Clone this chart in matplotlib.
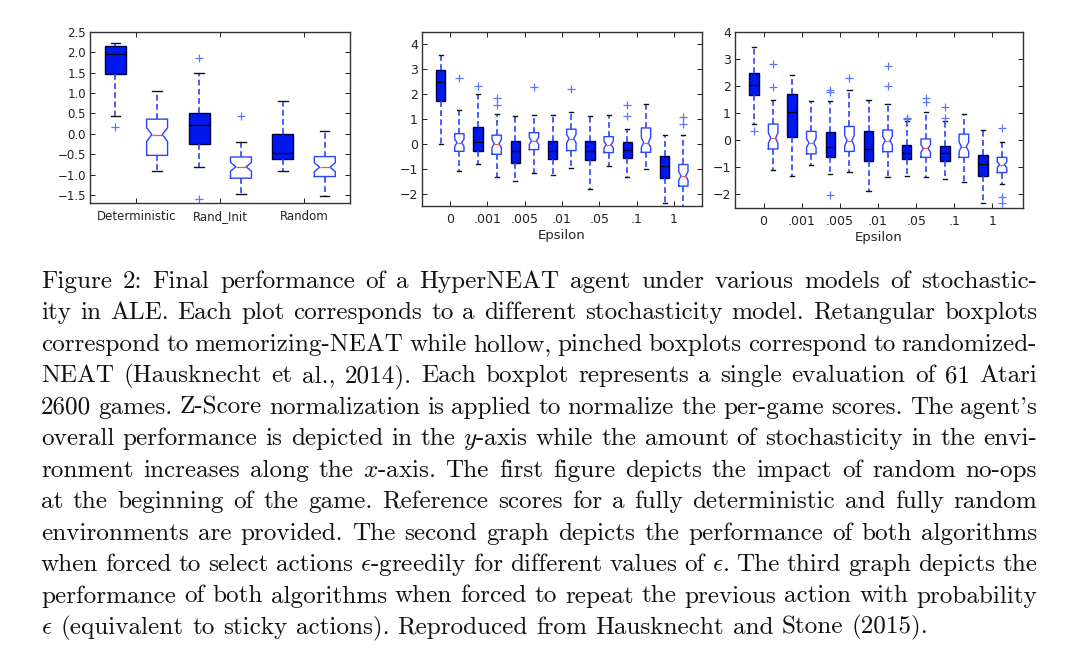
import numpy as np
import matplotlib
matplotlib.use('Agg')
import matplotlib.pyplot as plt

plt.rcParams['mathtext.fontset'] = 'cm'

# rows: whisker low, q1, median, q3, whisker high
# panel 1 - random no-op starts
p1_labels = ['Deterministic', 'Rand_Init', 'Random']
p1_mem = [[0.44, 1.47, 1.95, 2.16, 2.22],
          [-0.82, -0.26, 0.22, 0.50, 1.49],
          [-0.91, -0.63, -0.48, 0.00, 0.80]]
p1_mem_fliers = [[0.17], [1.86, -1.61], []]
p1_rnd = [[-0.92, -0.53, -0.02, 0.36, 1.06],
          [-1.48, -1.09, -0.81, -0.57, -0.21],
          [-1.54, -1.05, -0.82, -0.56, 0.07]]
p1_rnd_fliers = [[], [0.43], []]
p1_rnd_ci = [[-0.19, 0.15], [-0.92, -0.70], [-0.93, -0.71]]

eps_labels = ['0', '.001', '.005', '.01', '.05', '.1', '1']

# panel 2 - epsilon-greedy
p2_mem = [[-0.02, 1.71, 2.49, 2.98, 3.58],
          [-0.83, -0.28, 0.08, 0.68, 2.02],
          [-1.50, -0.77, -0.30, 0.12, 1.14],
          [-1.25, -0.59, -0.28, 0.13, 1.18],
          [-1.80, -0.66, -0.28, 0.12, 1.14],
          [-1.33, -0.56, -0.26, 0.08, 0.61],
          [-2.39, -1.37, -0.89, -0.50, 0.35]]
p2_mem_fliers = [[], [2.34], [], [], [], [1.12, 1.58], []]
p2_rnd = [[-1.09, -0.30, 0.05, 0.41, 1.38],
          [-1.33, -0.42, 0.01, 0.35, 1.20],
          [-1.18, -0.23, 0.12, 0.45, 1.18],
          [-0.99, -0.27, 0.21, 0.59, 1.28],
          [-0.89, -0.35, -0.03, 0.29, 1.15],
          [-1.03, -0.34, 0.05, 0.64, 1.60],
          [-2.70, -1.70, -1.29, -0.83, 0.35]]
p2_rnd_fliers = [[2.65], [1.58, 1.84], [2.29], [2.22], [], [], [0.81, 1.08]]
p2_rnd_ci = [[-0.10, 0.19], [-0.15, 0.17], [-0.02, 0.26], [0.04, 0.38],
             [-0.16, 0.10], [-0.15, 0.25], [-1.46, -1.12]]

# panel 3 - sticky actions
p3_mem = [[0.62, 1.67, 2.03, 2.49, 3.46],
          [-1.30, 0.11, 1.06, 1.70, 2.40],
          [-1.26, -0.63, -0.26, 0.29, 1.45],
          [-1.89, -0.75, -0.32, 0.33, 1.48],
          [-1.31, -0.69, -0.48, -0.16, 0.72],
          [-1.42, -0.75, -0.48, -0.20, 0.70],
          [-2.30, -1.32, -0.87, -0.54, 0.38]]
p3_mem_fliers = [[0.34], [], [1.80, 1.85, -2.03], [], [0.78, 0.84], [0.82, 1.23], []]
p3_rnd = [[-1.08, -0.32, 0.08, 0.60, 1.49],
          [-0.93, -0.50, -0.10, 0.33, 1.45],
          [-1.18, -0.41, -0.01, 0.51, 1.87],
          [-1.34, -0.42, -0.01, 0.38, 1.33],
          [-1.36, -0.63, -0.30, 0.05, 1.06],
          [-1.54, -0.63, -0.24, 0.23, 0.96],
          [-1.60, -1.19, -0.90, -0.63, -0.08]]
p3_rnd_fliers = [[1.98, 2.80], [], [2.31], [2.00, 2.74], [1.43, 1.55], [], [0.44, -2.10, -2.30]]
p3_rnd_ci = [[-0.11, 0.27], [-0.27, 0.07], [-0.20, 0.18], [-0.17, 0.15],
             [-0.44, -0.16], [-0.41, -0.07], [-1.01, -0.79]]

caption = [
    "Figure 2: Final performance of a HyperNEAT agent under various models of stochastic-",
    "ity in ALE. Each plot corresponds to a different stochasticity model. Retangular boxplots",
    "correspond to memorizing-NEAT while hollow, pinched boxplots correspond to randomized-",
    "NEAT (Hausknecht et al., 2014). Each boxplot represents a single evaluation of 61 Atari",
    "2600 games. Z-Score normalization is applied to normalize the per-game scores. The agent's",
    "overall performance is depicted in the $y$-axis while the amount of stochasticity in the envi-",
    "ronment increases along the $x$-axis. The first figure depicts the impact of random no-ops",
    "at the beginning of the game. Reference scores for a fully deterministic and fully random",
    "environments are provided. The second graph depicts the performance of both algorithms",
    r"when forced to select actions $\epsilon$-greedily for different values of $\epsilon$. The third graph depicts the",
    "performance of both algorithms when forced to repeat the previous action with probability",
    r"$\epsilon$ (equivalent to sticky actions). Reproduced from Hausknecht and Stone (2015).",
]


def make_stats(rows, fliers, ci=None):
    out = []
    for i, r in enumerate(rows):
        d = dict(whislo=r[0], q1=r[1], med=r[2], q3=r[3], whishi=r[4], fliers=fliers[i])
        if ci is not None:
            d['cilo'], d['cihi'] = ci[i]
        out.append(d)
    return out


def draw_pairs(ax, mem, mem_fl, rnd, rnd_fl, rnd_ci):
    pos = np.arange(len(mem)) * 2 + 1
    whisk = dict(color='#2a44ff', ls=(0, (3.5, 2)), lw=1.2)
    caps = dict(color='#111111', lw=1.0)
    fl = dict(marker='+', markeredgecolor='#5a78ff', markersize=6, markeredgewidth=0.9, ls='none')
    ax.bxp(make_stats(mem, mem_fl), positions=pos, widths=0.5, patch_artist=True,
           boxprops=dict(facecolor='#0018f0', edgecolor='#000040', lw=1.0),
           medianprops=dict(color='#000020', lw=1.0),
           whiskerprops=whisk, capprops=caps, flierprops=fl,
           capwidths=0.22, manage_ticks=False)
    ax.bxp(make_stats(rnd, rnd_fl, rnd_ci), positions=pos + 1, widths=0.5,
           shownotches=True,
           boxprops=dict(color='#2a44ff', lw=1.0),
           medianprops=dict(color='#ff5050', lw=0.9),
           whiskerprops=whisk, capprops=caps, flierprops=fl,
           capwidths=0.22, manage_ticks=False)


def style(ax, fs):
    ax.tick_params(direction='in', top=True, right=True, length=3.5, width=0.7,
                   labelsize=fs, colors='#222222')
    ax.tick_params(axis='x', pad=5)
    ax.tick_params(axis='y', pad=3)
    for s in ax.spines.values():
        s.set_color('#333333')
        s.set_linewidth(1.0)


fig = plt.figure(figsize=(10.8, 6.71), dpi=100)

ax1 = fig.add_axes([90 / 1080, 1 - 203 / 671, 260 / 1080, 171 / 671])
draw_pairs(ax1, p1_mem, p1_mem_fliers, p1_rnd, p1_rnd_fliers, p1_rnd_ci)
ax1.set_xlim(0.4, 6.6)
ax1.set_ylim(-1.7, 2.5)
ax1.set_yticks(np.arange(-1.5, 2.51, 0.5))
ax1.set_xticks(np.arange(len(p1_labels)) * 2 + 1.5)
ax1.set_xticklabels(p1_labels)
style(ax1, 8.5)

ax2 = fig.add_axes([422 / 1080, 1 - 206 / 671, 280 / 1080, 174 / 671])
draw_pairs(ax2, p2_mem, p2_mem_fliers, p2_rnd, p2_rnd_fliers, p2_rnd_ci)
ax2.set_xlim(0.0, 15.0)
ax2.set_ylim(-2.5, 4.5)
ax2.set_yticks(np.arange(-2, 5, 1))
ax2.set_xticks(np.arange(len(eps_labels)) * 2 + 1.5)
ax2.set_xticklabels(eps_labels)
ax2.set_xlabel('Epsilon', fontsize=9.5, color='#222222', labelpad=2)
style(ax2, 9)

ax3 = fig.add_axes([735 / 1080, 1 - 208 / 671, 288 / 1080, 176 / 671])
draw_pairs(ax3, p3_mem, p3_mem_fliers, p3_rnd, p3_rnd_fliers, p3_rnd_ci)
ax3.set_xlim(0.0, 15.1)
ax3.set_ylim(-2.5, 4.0)
ax3.set_yticks(np.arange(-2, 5, 1))
ax3.set_xticks(np.arange(len(eps_labels)) * 2 + 1.5)
ax3.set_xticklabels(eps_labels)
ax3.set_xlabel('Epsilon', fontsize=9.5, color='#222222', labelpad=2)
style(ax3, 9)

# justified caption, placed word by word
renderer = fig.canvas.get_renderer()
cap_fs = 18.1
cap_family = ['cmr10', 'DejaVu Serif']
x0, x1 = 41, 1037
sp = fig.text(0, 0, 'a a', family=cap_family, fontsize=cap_fs)
sp2 = fig.text(0, 0, 'aa', family=cap_family, fontsize=cap_fs)
space_w = sp.get_window_extent(renderer).width - sp2.get_window_extent(renderer).width
sp.remove()
sp2.remove()
for i, line in enumerate(caption):
    yb = 1 - (288 + 31.45 * i) / 671
    words = line.split(' ')
    texts = [fig.text(0, yb, w, family=cap_family, fontsize=cap_fs, va='baseline',
                      color='#111111') for w in words]
    widths = [t.get_window_extent(renderer).width for t in texts]
    if i == len(caption) - 1:
        gap = space_w
    else:
        gap = (x1 - x0 - sum(widths)) / (len(words) - 1)
    x = x0
    for t, w in zip(texts, widths):
        t.set_x(x / 1080)
        x += w + gap

fig.savefig('out.png', dpi=100)
